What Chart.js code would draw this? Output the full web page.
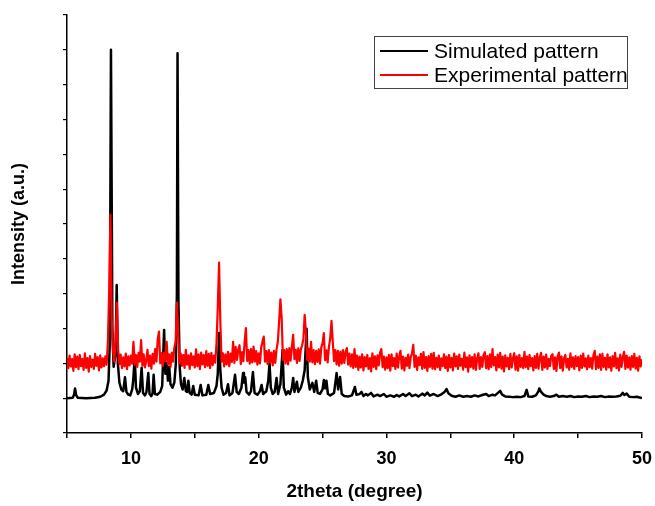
<!DOCTYPE html>
<html lang="en">
<head>
<meta charset="UTF-8">
<title>XRD pattern</title>
<script src="https://cdn.jsdelivr.net/npm/chart.js"></script>
<style>
  html, body { margin: 0; padding: 0; background: #fff; }
  .wrap { width: 655px; height: 506px; position: relative; }
</style>
</head>
<body>
<div class="wrap">
  <canvas id="xrdChart" width="655" height="506"></canvas>
</div>
<script>
// simulated pattern, 2theta / intensity pairs
const simTheta = [
  5.0, 5.45, 5.55, 5.63, 5.72, 5.85, 6.5, 7.2, 7.6, 7.9, 8.1, 8.25, 8.35, 8.44, 8.55, 8.65, 8.8, 8.89, 8.98, 9.1,
  9.25, 9.4, 9.54, 9.65, 9.8, 9.95, 10.1, 10.18, 10.3, 10.4, 10.55, 10.7, 10.84, 10.95, 11.1, 11.22, 11.36, 11.46, 11.6, 11.7,
  11.78, 11.88, 12.05, 12.3, 12.45, 12.6, 12.7, 12.8, 12.9, 13.0, 13.1, 13.25, 13.4, 13.52, 13.6, 13.65, 13.72, 13.82, 13.92, 14.05,
  14.18, 14.3, 14.4, 14.5, 14.6, 14.75, 14.88, 15.0, 15.3, 15.46, 15.6, 15.9, 16.06, 16.2, 16.5, 16.7, 16.8, 16.9, 17.0, 17.1,
  17.25, 17.45, 17.6, 17.72, 17.95, 18.15, 18.28, 18.45, 18.65, 18.78, 18.85, 18.95, 19.05, 19.25, 19.4, 19.55, 19.68, 19.9, 20.1, 20.23,
  20.35, 20.6, 20.75, 20.85, 20.95, 21.1, 21.25, 21.4, 21.52, 21.7, 21.87, 21.97, 22.15, 22.3, 22.45, 22.6, 22.7, 22.8, 22.99, 23.1,
  23.3, 23.45, 23.6, 23.75, 23.85, 24.0, 24.2, 24.35, 24.5, 24.62, 24.8, 25.0, 25.1, 25.2, 25.3, 25.42, 25.6, 25.9, 26.1, 26.22,
  26.37, 26.5, 26.7, 27.0, 27.3, 27.53, 27.65, 27.9, 28.05, 28.2, 28.4, 28.55, 28.8, 29.0, 29.3, 29.5, 29.8, 30.0, 30.3, 30.6,
  30.8, 31.0, 31.3, 31.5, 31.8, 32.0, 32.3, 32.5, 32.8, 33.0, 33.2, 33.4, 33.7, 34.0, 34.3, 34.55, 34.7, 34.85, 35.1, 35.4,
  35.7, 36.0, 36.3, 36.6, 36.9, 37.2, 37.5, 37.8, 38.0, 38.3, 38.5, 38.75, 38.9, 39.05, 39.3, 39.6, 39.9, 40.2, 40.5, 40.8,
  40.97, 41.1, 41.4, 41.7, 41.9, 41.96, 42.1, 42.3, 42.5, 42.8, 43.1, 43.3, 43.5, 43.8, 44.1, 44.4, 44.7, 45.0, 45.3, 45.6,
  45.9, 46.2, 46.5, 46.8, 47.1, 47.4, 47.7, 48.0, 48.3, 48.5, 48.62, 48.8, 49.0, 49.3, 49.6, 49.8, 50.0
];
const simIntensity = [
  100, 101, 110, 128, 108, 101, 100, 101, 104, 110, 122, 150, 260, 1100, 300, 190, 230, 425, 200, 145,
  125, 120, 160, 118, 110, 108, 125, 150, 219, 130, 112, 120, 187, 115, 108, 118, 172, 112, 106, 115,
  167, 112, 110, 118, 135, 296, 170, 200, 150, 190, 140, 130, 145, 200, 400, 1090, 380, 190, 140, 125,
  158, 120, 118, 150, 115, 110, 135, 110, 108, 138, 108, 110, 138, 112, 115, 135, 170, 287, 180, 130,
  110, 115, 140, 108, 115, 167, 118, 112, 130, 172, 145, 160, 118, 110, 120, 175, 115, 110, 120, 138,
  112, 120, 150, 201, 130, 112, 118, 158, 112, 140, 238, 130, 110, 120, 112, 130, 158, 118, 147, 118,
  130, 150, 180, 299, 160, 125, 144, 118, 150, 115, 112, 125, 152, 128, 150, 112, 108, 115, 172, 125,
  161, 112, 106, 105, 108, 132, 110, 112, 118, 106, 112, 108, 115, 105, 110, 106, 112, 104, 108, 104,
  109, 105, 112, 106, 114, 106, 110, 105, 113, 108, 116, 107, 112, 106, 111, 118, 126, 114, 107, 104,
  108, 104, 106, 104, 108, 105, 109, 112, 106, 110, 108, 116, 121, 110, 105, 104, 103, 104, 103, 106,
  124, 105, 104, 108, 120, 128, 118, 110, 106, 104, 106, 110, 104, 106, 104, 106, 103, 105, 104, 106,
  103, 105, 104, 106, 103, 105, 104, 105, 107, 115, 109, 113, 104, 103, 104, 102, 100
];

// experimental pattern, one reading every 0.1 degree from 5.0 to 50.0
const expStart = 5.0;
const expStep = 0.1;
const expIntensity = [
  216, 186, 222, 191, 212, 178, 226, 189, 219, 183,   // 5
  224, 192, 213, 181, 229, 187, 215, 176, 221, 190,   // 6
  211, 184, 227, 193, 218, 180, 223, 188, 214, 192,   // 7
  220, 196, 262, 410, 626, 330, 236, 205, 262, 374,   // 8
  240, 198, 225, 186, 217, 191, 228, 183, 220, 194,   // 9
  222, 199, 262, 196, 224, 190, 230, 205, 267, 193,   // 10
  226, 188, 208, 239, 192, 222, 185, 227, 199, 241,   // 11
  205, 270, 291, 200, 229, 193, 231, 206, 262, 197,   // 12
  226, 190, 231, 205, 245, 262, 374, 290, 200, 228,   // 13
  193, 224, 187, 239, 196, 223, 184, 229, 195, 220,   // 14
  188, 240, 192, 226, 183, 231, 197, 224, 189, 235,   // 15
  193, 227, 186, 230, 195, 222, 202, 258, 360, 489,   // 16
  320, 205, 229, 191, 226, 197, 233, 192, 228, 204,   // 17
  262, 201, 247, 210, 239, 252, 198, 232, 206, 262,   // 18
  301, 207, 238, 199, 241, 203, 248, 205, 235, 196,   // 19
  229, 200, 246, 263, 277, 205, 235, 198, 238, 203,   // 20
  231, 194, 236, 201, 240, 262, 320, 384, 330, 210,   // 21
  238, 200, 241, 197, 244, 208, 248, 282, 212, 239,   // 22
  201, 243, 207, 240, 251, 270, 339, 288, 209, 242,   // 23
  205, 262, 203, 238, 198, 236, 204, 240, 199, 246,   // 24
  258, 287, 209, 237, 203, 248, 272, 322, 262, 206,   // 25
  238, 197, 236, 193, 234, 199, 238, 201, 232, 244,   // 26
  196, 228, 191, 226, 187, 241, 190, 222, 181, 219,   // 27
  188, 226, 180, 218, 191, 224, 184, 215, 177, 229,   // 28
  190, 220, 183, 223, 194, 231, 241, 189, 219, 182,   // 29
  217, 186, 224, 179, 226, 192, 215, 184, 228, 188,   // 30
  221, 236, 185, 219, 180, 216, 193, 225, 186, 218,   // 31
  229, 253, 190, 222, 181, 217, 195, 227, 184, 232,   // 32
  187, 218, 178, 221, 190, 227, 185, 230, 183, 216,   // 33
  189, 222, 181, 214, 192, 226, 186, 219, 178, 224,   // 34
  188, 216, 180, 228, 191, 220, 184, 225, 193, 213,   // 35
  182, 231, 189, 217, 176, 223, 190, 218, 185, 226,   // 36
  181, 214, 229, 184, 218, 190, 224, 232, 186, 221,   // 37
  183, 226, 189, 241, 194, 218, 180, 225, 188, 230,   // 38
  185, 219, 177, 223, 191, 216, 183, 227, 188, 214,   // 39
  229, 182, 220, 179, 224, 190, 215, 186, 233, 189,   // 40
  219, 183, 224, 192, 215, 180, 221, 187, 227, 185,   // 41
  216, 230, 181, 219, 188, 225, 184, 213, 192, 222,   // 42
  226, 183, 217, 178, 220, 231, 186, 220, 179, 215,   // 43
  224, 188, 213, 182, 229, 190, 217, 184, 221, 192,   // 44
  218, 180, 222, 187, 228, 191, 214, 183, 222, 189,   // 45
  215, 185, 224, 236, 183, 219, 187, 226, 181, 227,   // 46
  190, 216, 182, 226, 188, 217, 179, 221, 191, 230,   // 47
  186, 214, 180, 225, 190, 218, 233, 184, 222, 188,   // 48
  217, 182, 221, 190, 227, 185, 216, 179, 220, 191,   // 49
  212                                                 // 50
];

const xTicks = [5, 10, 15, 20, 25, 30, 35, 40, 45, 50];
const xTickLabels = ['', '10', '', '20', '', '30', '', '40', '', '50'];

const simPoints = simTheta.map((t, i) => ({ x: t, y: simIntensity[i] }));
const expPoints = expIntensity.map((v, i) => ({ x: +(expStart + i * expStep).toFixed(1), y: v }));

// legend box inside the plot, top right
const legendBox = {
    id: 'legendBox',
    afterDraw(chart) {
        const ctx = chart.ctx;
        const area = chart.chartArea;
        const left = area.right - 268, top = area.top + 21;
        ctx.save();
        ctx.strokeStyle = '#444';
        ctx.lineWidth = 1;
        ctx.strokeRect(left + 0.5, top + 0.5, 253, 52);
        ctx.font = '21px "Liberation Sans", Arial, sans-serif';
        ctx.textBaseline = 'middle';
        chart.data.datasets.forEach(function (ds, i) {
            const y = top + 15 + i * 24;
            ctx.strokeStyle = ds.borderColor;
            ctx.lineWidth = 2;
            ctx.beginPath();
            ctx.moveTo(left + 6, y);
            ctx.lineTo(left + 54, y);
            ctx.stroke();
            ctx.fillStyle = '#000';
            ctx.fillText(ds.label, left + 60, y + 1);
        });
        ctx.restore();
    }
};

const ctx = document.getElementById('xrdChart');

new Chart(ctx, {
    type: 'line',
    data: {
        datasets: [
            {
                label: 'Simulated pattern',
                data: simPoints,
                borderColor: '#000000',
                borderWidth: 2.5,
                borderJoinStyle: 'round',
                pointRadius: 0,
                tension: 0,
                order: 2
            },
            {
                label: 'Experimental pattern',
                data: expPoints,
                borderColor: '#ff0000',
                borderWidth: 2.2,
                borderJoinStyle: 'round',
                pointRadius: 0,
                tension: 0,
                order: 1
            }
        ]
    },
    options: {
        responsive: false,
        animation: false,
        layout: { padding: { top: 15, right: 13, left: 0, bottom: 0 } },
        plugins: {
            legend: { display: false },
            tooltip: { enabled: false }
        },
        scales: {
            x: {
                type: 'linear',
                min: 5,
                max: 50,
                afterBuildTicks: function (scale) {
                    scale.ticks = xTicks.map(v => ({ value: v }));
                },
                afterFit: function (scale) {
                    scale.height = 73;
                    scale.paddingLeft = 0;
                    scale.paddingRight = 0;
                },
                border: { display: true, color: '#000', width: 1.5 },
                grid: { display: true, drawOnChartArea: false, drawTicks: true, tickLength: 5, color: '#000', lineWidth: 1.5 },
                ticks: {
                    color: '#000',
                    padding: 10,
                    maxRotation: 0,
                    autoSkip: false,
                    font: { family: '"Liberation Sans", Arial, sans-serif', size: 18, weight: 'bold' },
                    callback: function (value) {
                        const k = xTicks.indexOf(value);
                        return k >= 0 ? xTickLabels[k] : '';
                    }
                },
                title: {
                    display: true,
                    text: '2theta (degree)',
                    color: '#000',
                    padding: { top: 0, bottom: 3 },
                    font: { family: '"Liberation Sans", Arial, sans-serif', size: 19, weight: 'bold' }
                }
            },
            y: {
                min: 0,
                max: 1200,
                afterFit: function (scale) { scale.width = 67; },
                border: { display: true, color: '#000', width: 1.5 },
                grid: { display: true, drawOnChartArea: false, drawTicks: true, tickLength: 4, color: '#000', lineWidth: 1.2 },
                ticks: {
                    stepSize: 100,
                    color: '#000',
                    callback: function () { return ''; }
                },
                title: {
                    display: true,
                    text: 'Intensity (a.u.)',
                    color: '#000',
                    padding: { top: 8, bottom: 0 },
                    font: { family: '"Liberation Sans", Arial, sans-serif', size: 18, weight: 'bold' }
                }
            }
        }
    },
    plugins: [legendBox]
});
</script>
</body>
</html>
